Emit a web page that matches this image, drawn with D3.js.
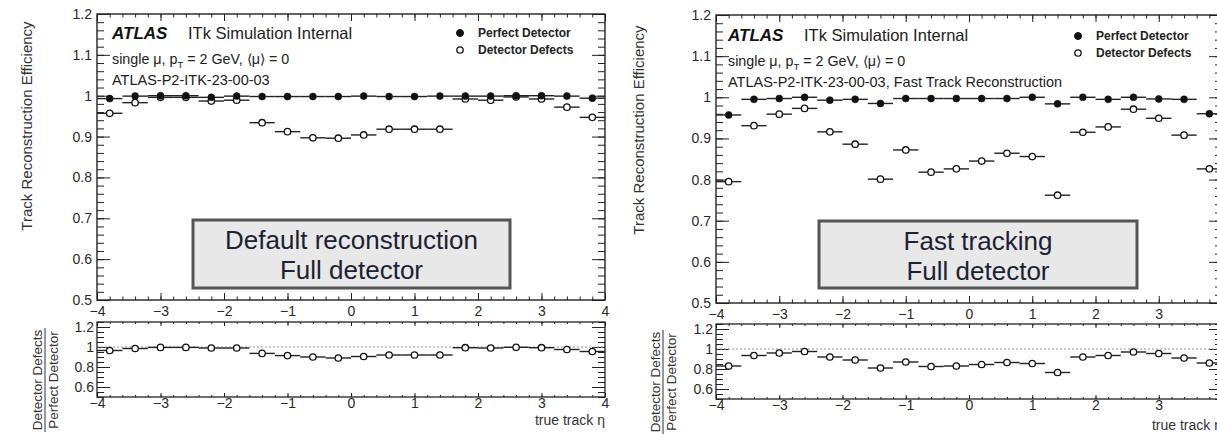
<!DOCTYPE html>
<html>
<head>
<meta charset="utf-8">
<script src="https://cdn.jsdelivr.net/npm/d3@7"></script>
<style>
  html, body { margin: 0; padding: 0; background: #fff; }
  svg { display: block; font-family: "Liberation Sans", Arial, Helvetica, sans-serif; }
</style>
</head>
<body>
<svg id="chart" width="1217" height="434"></svg>
<script>
// ---------------- DATA ----------------
const etaCenters = [-3.8, -3.4, -3.0, -2.6, -2.2, -1.8, -1.4, -1.0, -0.6, -0.2,
                     0.2,  0.6,  1.0,  1.4,  1.8,  2.2,  2.6,  3.0,  3.4,  3.8];
const binHalfWidth = 0.2;
const xTickLabels = [-4, -3, -2, -1, 0, 1, 2, 3, 4];
const effTickLabels = [0.5, 0.6, 0.7, 0.8, 0.9, 1.0, 1.1, 1.2];
const ratioTickLabels = [0.6, 0.8, 1.0, 1.2];

// Left: default reconstruction
const defaultPerfect = [0.993, 0.999, 1.0, 1.0, 0.996, 0.999, 0.998, 0.998, 0.998, 0.998,
                        0.999, 0.998, 0.998, 0.999, 0.999, 0.999, 1.0, 1.0, 0.999, 0.994];
const defaultDefects = [0.957, 0.983, 0.996, 0.996, 0.987, 0.989, 0.934, 0.912, 0.897, 0.896,
                        0.904, 0.918, 0.918, 0.918, 0.992, 0.989, 0.997, 0.992, 0.972, 0.947];
const defaultRatio   = [0.965, 0.985, 0.996, 0.996, 0.99, 0.99, 0.936, 0.914, 0.90, 0.89,
                        0.905, 0.92, 0.92, 0.92, 0.993, 0.99, 0.997, 0.993, 0.975, 0.955];

// Right: fast tracking
const fastPerfect = [0.957, 0.995, 0.997, 1.0, 0.993, 0.995, 0.985, 0.997, 0.997, 0.997,
                     0.997, 0.997, 1.0, 0.984, 1.0, 0.995, 1.0, 0.996, 0.995, 0.96];
const fastDefects = [0.795, 0.931, 0.959, 0.973, 0.916, 0.886, 0.801, 0.872, 0.818, 0.826,
                     0.845, 0.864, 0.856, 0.762, 0.915, 0.928, 0.971, 0.949, 0.908, 0.826];
const fastRatio   = [0.83, 0.935, 0.96, 0.975, 0.92, 0.89, 0.81, 0.87, 0.825, 0.83,
                     0.845, 0.865, 0.855, 0.765, 0.92, 0.935, 0.97, 0.955, 0.91, 0.86];

const legendLabels = ["Perfect Detector", "Detector Defects"];
const yTitle = "Track Reconstruction Efficiency";
const ratioTitleTop = "Detector Defects";
const ratioTitleBottom = "Perfect Detector";
const xTitle = "true track \u03b7";

// ---------------- DRAW ----------------
const svg = d3.select("#chart");
svg.append("rect").attr("width", 1217).attr("height", 434).attr("fill", "#fff");

const fmt = d => (Math.abs(d - 1) < 1e-9 ? "1" : d3.format(".1f")(d));
const fmtX = d => (d < 0 ? "\u2212" + Math.abs(d) : String(d));

function styleAxis(g, fontSize) {
  g.select(".domain").remove();
  g.selectAll(".tick line").attr("stroke", "#222").attr("stroke-width", 1);
  g.selectAll(".tick text").attr("fill", "#2a2a2a").attr("font-size", fontSize)
    .attr("font-family", "Liberation Sans, Arial, sans-serif");
}

function drawPanel(p) {
  const x = d3.scaleLinear().domain([-4, 4]).range([p.x0, p.x1]);
  const y = d3.scaleLinear().domain([0.5, 1.2]).range([p.mainBottom, p.mainTop]);
  const yr = d3.scaleLinear().domain([0.5, 1.25]).range([p.ratioBottom, p.ratioTop]);

  const g = svg.append("g");
  const FS = 14;

  // ---------- main pad ----------
  const minorX = d3.range(-4, 4.0001, 0.2).map(v => +v.toFixed(2));
  const minorY = d3.range(0.5, 1.2001, 0.02).map(v => +v.toFixed(3));

  g.append("g").attr("transform", `translate(0,${p.mainBottom})`)
    .call(d3.axisBottom(x).tickValues(minorX).tickSize(-3.5).tickFormat(""))
    .call(a => styleAxis(a, FS));
  g.append("g").attr("transform", `translate(0,${p.mainBottom})`)
    .call(d3.axisBottom(x).tickValues(xTickLabels).tickSize(-7).tickPadding(6).tickFormat(fmtX))
    .call(a => styleAxis(a, FS));
  g.append("g").attr("transform", `translate(0,${p.mainTop})`)
    .call(d3.axisTop(x).tickValues(minorX).tickSize(-3.5).tickFormat(""))
    .call(a => styleAxis(a, FS));
  g.append("g").attr("transform", `translate(0,${p.mainTop})`)
    .call(d3.axisTop(x).tickValues(xTickLabels).tickSize(-7).tickFormat(""))
    .call(a => styleAxis(a, FS));
  g.append("g").attr("transform", `translate(${p.x0},0)`)
    .call(d3.axisLeft(y).tickValues(minorY).tickSize(-7).tickFormat(""))
    .call(a => styleAxis(a, FS));
  g.append("g").attr("transform", `translate(${p.x0},0)`)
    .call(d3.axisLeft(y).tickValues(effTickLabels).tickSize(-13).tickPadding(5).tickFormat(fmt))
    .call(a => styleAxis(a, FS));
  g.append("g").attr("transform", `translate(${p.x1},0)`)
    .call(d3.axisRight(y).tickValues(minorY).tickSize(-7).tickFormat(""))
    .call(a => styleAxis(a, FS));
  g.append("g").attr("transform", `translate(${p.x1},0)`)
    .call(d3.axisRight(y).tickValues(effTickLabels).tickSize(-13).tickFormat(""))
    .call(a => styleAxis(a, FS));

  g.append("rect").attr("x", p.x0).attr("y", p.mainTop)
    .attr("width", p.x1 - p.x0).attr("height", p.mainBottom - p.mainTop)
    .attr("fill", "none").attr("stroke", "#222").attr("stroke-width", 1.4);

  // ---------- ratio pad ----------
  const minorR = d3.range(0.5, 1.2501, 0.05).map(v => +v.toFixed(3));
  g.append("g").attr("transform", `translate(0,${p.ratioBottom})`)
    .call(d3.axisBottom(x).tickValues(minorX).tickSize(-2).tickFormat(""))
    .call(a => styleAxis(a, FS));
  g.append("g").attr("transform", `translate(0,${p.ratioBottom})`)
    .call(d3.axisBottom(x).tickValues(xTickLabels).tickSize(-4).tickPadding(1).tickFormat(fmtX))
    .call(a => styleAxis(a, FS));
  g.append("g").attr("transform", `translate(0,${p.ratioTop})`)
    .call(d3.axisTop(x).tickValues(minorX).tickSize(-2).tickFormat(""))
    .call(a => styleAxis(a, FS));
  g.append("g").attr("transform", `translate(0,${p.ratioTop})`)
    .call(d3.axisTop(x).tickValues(xTickLabels).tickSize(-4).tickFormat(""))
    .call(a => styleAxis(a, FS));
  g.append("g").attr("transform", `translate(${p.x0},0)`)
    .call(d3.axisLeft(yr).tickValues(minorR).tickSize(-7).tickFormat(""))
    .call(a => styleAxis(a, FS));
  g.append("g").attr("transform", `translate(${p.x0},0)`)
    .call(d3.axisLeft(yr).tickValues(ratioTickLabels).tickSize(-13).tickPadding(3).tickFormat(fmt))
    .call(a => styleAxis(a, FS));
  g.append("g").attr("transform", `translate(${p.x1},0)`)
    .call(d3.axisRight(yr).tickValues(minorR).tickSize(-7).tickFormat(""))
    .call(a => styleAxis(a, FS));
  g.append("g").attr("transform", `translate(${p.x1},0)`)
    .call(d3.axisRight(yr).tickValues(ratioTickLabels).tickSize(-13).tickFormat(""))
    .call(a => styleAxis(a, FS));

  g.append("line").attr("x1", p.x0).attr("x2", p.x1)
    .attr("y1", yr(1)).attr("y2", yr(1))
    .attr("stroke", "#999").attr("stroke-width", 1).attr("stroke-dasharray", "2,2");

  g.append("rect").attr("x", p.x0).attr("y", p.ratioTop)
    .attr("width", p.x1 - p.x0).attr("height", p.ratioBottom - p.ratioTop)
    .attr("fill", "none").attr("stroke", "#222").attr("stroke-width", 1.3);

  // ---------- data ----------
  function drawSeries(vals, yScale, filled, r) {
    const sg = g.append("g");
    const pts = etaCenters.map((c, i) => ({ c, v: vals[i] }));
    sg.selectAll("line.l").data(pts).join("line")
      .attr("x1", d => x(d.c - binHalfWidth)).attr("x2", d => x(d.c) - r)
      .attr("y1", d => yScale(d.v)).attr("y2", d => yScale(d.v))
      .attr("stroke", "#222").attr("stroke-width", 1.4);
    sg.selectAll("line.r").data(pts).join("line")
      .attr("x1", d => x(d.c) + r).attr("x2", d => x(d.c + binHalfWidth))
      .attr("y1", d => yScale(d.v)).attr("y2", d => yScale(d.v))
      .attr("stroke", "#222").attr("stroke-width", 1.4);
    sg.selectAll("circle").data(pts).join("circle")
      .attr("cx", d => x(d.c)).attr("cy", d => yScale(d.v)).attr("r", r)
      .attr("fill", filled ? "#111" : "#fff")
      .attr("stroke", "#111").attr("stroke-width", filled ? 0.6 : 1.3);
  }
  drawSeries(p.defects, y, false, 3.2);
  drawSeries(p.perfect, y, true, 3.5);
  drawSeries(p.ratio, yr, false, 3.2);

  // ---------- texts ----------
  g.append("text").attr("x", p.atlasX).attr("y", p.atlasY)
    .attr("font-size", 17).attr("font-weight", "bold").attr("font-style", "italic")
    .attr("fill", "#111").text("ATLAS");
  g.append("text").attr("x", p.atlasX + 76).attr("y", p.atlasY)
    .attr("font-size", 16.5).attr("fill", "#222").text("ITk Simulation Internal");

  const t2 = g.append("text").attr("x", p.atlasX).attr("y", p.atlasY + 25)
    .attr("font-size", 14.3).attr("fill", "#222");
  t2.append("tspan").text("single \u03bc, p");
  t2.append("tspan").attr("font-size", 9.5).attr("dy", 4).text("T");
  t2.append("tspan").attr("dy", -4).text(" = 2 GeV, \u27e8\u03bc\u27e9 = 0");

  g.append("text").attr("x", p.atlasX).attr("y", p.atlasY + 46)
    .attr("font-size", 14.5).attr("fill", "#222").text(p.tagLine);

  // legend
  g.append("circle").attr("cx", p.legX).attr("cy", p.legY).attr("r", 3.5)
    .attr("fill", "#111").attr("stroke", "#111");
  g.append("circle").attr("cx", p.legX).attr("cy", p.legY + 17).attr("r", 3.2)
    .attr("fill", "#fff").attr("stroke", "#111").attr("stroke-width", 1.3);
  legendLabels.forEach((lab, i) => {
    g.append("text").attr("x", p.legX + 18).attr("y", p.legY + 17 * i)
      .attr("dominant-baseline", "central")
      .attr("font-size", 12).attr("font-weight", "bold").attr("fill", "#222").text(lab);
  });

  // box
  g.append("rect").attr("x", p.boxX0).attr("y", p.boxY0)
    .attr("width", p.boxX1 - p.boxX0).attr("height", p.boxY1 - p.boxY0)
    .attr("fill", "#e8e8e8").attr("stroke", "#555").attr("stroke-width", 3);
  p.boxLines.forEach((line, i) => {
    g.append("text").attr("x", (p.boxX0 + p.boxX1) / 2).attr("y", p.boxY0 + 20 + 30 * i)
      .attr("text-anchor", "middle").attr("dominant-baseline", "central")
      .attr("font-size", 26).attr("fill", "#1c2232").text(line);
  });

  // y title
  g.append("text").attr("transform", `translate(${p.yTitleX},${p.yTitleY}) rotate(-90)`)
    .attr("text-anchor", "middle").attr("dominant-baseline", "central")
    .attr("font-size", 15).attr("fill", "#333").text(yTitle);

  // ratio title
  const rt = g.append("g").attr("transform", `translate(${p.rTitleX},${p.rTitleY}) rotate(-90)`);
  rt.append("text").attr("x", 0).attr("y", -2).attr("text-anchor", "middle")
    .attr("font-size", 13.5).attr("fill", "#333").text(ratioTitleTop);
  rt.append("line").attr("x1", -52).attr("x2", 52).attr("y1", 1).attr("y2", 1)
    .attr("stroke", "#333").attr("stroke-width", 1);
  rt.append("text").attr("x", 0).attr("y", 13.5).attr("text-anchor", "middle")
    .attr("font-size", 13.5).attr("fill", "#333").text(ratioTitleBottom);

  // x title
  g.append("text").attr("x", p.x1).attr("y", p.xTitleY).attr("text-anchor", "end")
    .attr("font-size", 14).attr("fill", "#333").text(xTitle);
}

drawPanel({
  x0: 97, x1: 605, mainTop: 14, mainBottom: 300, ratioTop: 322, ratioBottom: 397,
  perfect: defaultPerfect, defects: defaultDefects, ratio: defaultRatio,
  atlasX: 112, atlasY: 39, tagLine: "ATLAS-P2-ITK-23-00-03",
  legX: 460, legY: 33,
  boxX0: 193, boxX1: 510, boxY0: 220, boxY1: 288,
  boxLines: ["Default reconstruction", "Full detector"],
  yTitleX: 26, yTitleY: 126, rTitleX: 44, rTitleY: 380, xTitleY: 425
});

drawPanel({
  x0: 716, x1: 1222, mainTop: 15, mainBottom: 303, ratioTop: 324, ratioBottom: 399,
  perfect: fastPerfect, defects: fastDefects, ratio: fastRatio,
  atlasX: 728, atlasY: 41, tagLine: "ATLAS-P2-ITK-23-00-03, Fast Track Reconstruction",
  legX: 1078, legY: 36,
  boxX0: 819, boxX1: 1137, boxY0: 221, boxY1: 288,
  boxLines: ["Fast tracking", "Full detector"],
  yTitleX: 638, yTitleY: 130, rTitleX: 662, rTitleY: 382, xTitleY: 430
});
</script>
</body>
</html>
